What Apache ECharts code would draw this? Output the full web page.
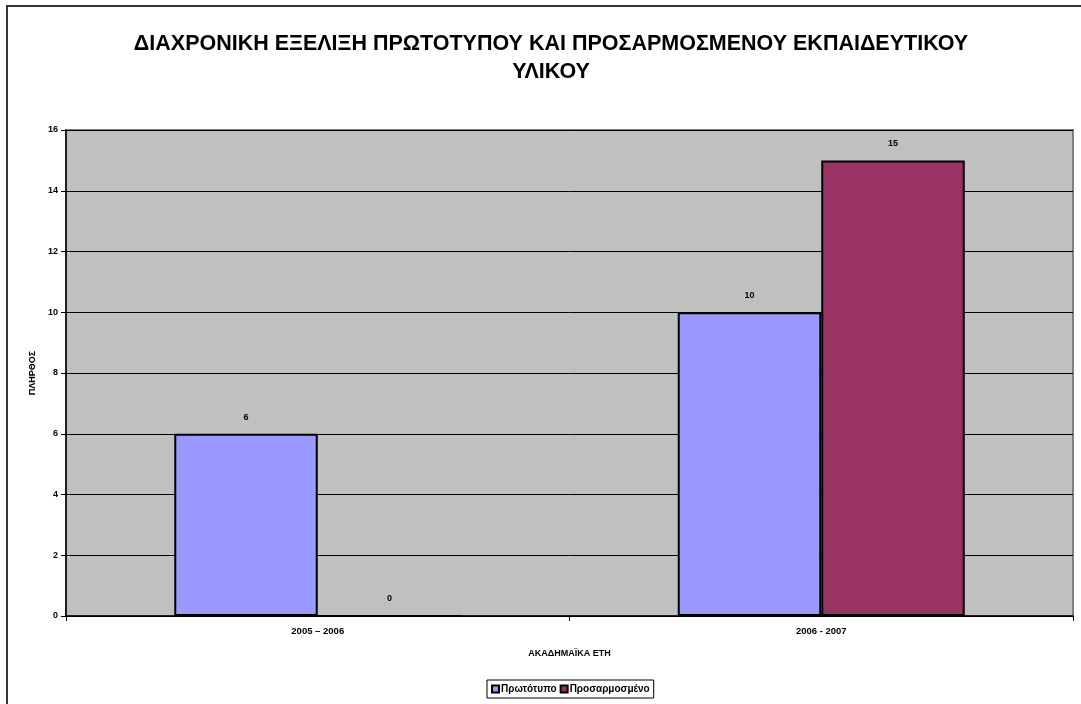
<!DOCTYPE html>
<html><head><meta charset="utf-8">
<script src="https://cdn.jsdelivr.net/npm/echarts@6/dist/echarts.min.js"></script>
<style>html,body{margin:0;padding:0;background:#fff}#c{width:1081px;height:704px}</style>
</head><body><div id="c"></div>
<script>
const categories = ['2005 – 2006', '2006 - 2007'];
const seriesNames = ['Πρωτότυπο', 'Προσαρμοσμένο'];
const original = [6, 10];
const adapted = [0, 15];
const titleText = 'ΔΙΑΧΡΟΝΙΚΗ ΕΞΕΛΙΞΗ ΠΡΩΤΟΤΥΠΟΥ ΚΑΙ ΠΡΟΣΑΡΜΟΣΜΕΝΟΥ ΕΚΠΑΙΔΕΥΤΙΚΟΥ\nΥΛΙΚΟΥ';
const xName = 'ΑΚΑΔΗΜΑΪΚΑ ΕΤΗ';
const yName = 'ΠΛΗΡΘΟΣ';

const F = '"Liberation Sans", Arial, sans-serif';
const chart = echarts.init(document.getElementById('c'));
const labelStyle = {show: true, position: 'top', distance: 12, fontFamily: F, fontWeight: 'bold', fontSize: 9, color: '#000'};
chart.setOption({
  animation: false,
  graphic: [{type: 'rect', shape: {x: 7, y: 6, width: 1090, height: 720}, style: {fill: 'none', stroke: '#333', lineWidth: 2}, silent: true}],
  title: {text: titleText, left: 546, textAlign: 'center', top: 25, textStyle: {fontFamily: F, fontWeight: 'bold', fontSize: 21.5, color: '#000', lineHeight: 28}},
  legend: {bottom: 6, left: 487, itemWidth: 7, itemHeight: 7, itemGap: 3, padding: [4, 4],
    borderColor: '#000', borderWidth: 1,
    textStyle: {fontFamily: F, fontWeight: 'bold', fontSize: 10, color: '#000', padding: [0, 0, 0, -3]},
    icon: 'rect', data: seriesNames},
  grid: {left: 66, right: 8, top: 130, bottom: 88, show: true, backgroundColor: '#c0c0c0', borderColor: '#808080', borderWidth: 2},
  xAxis: {type: 'category', data: categories, name: xName, nameLocation: 'middle', nameGap: 33,
    nameTextStyle: {fontFamily: F, fontWeight: 'bold', fontSize: 9, color: '#000'},
    axisLine: {lineStyle: {color: '#000', width: 1.5}}, axisTick: {show: true, length: 5, lineStyle: {color: '#000'}},
    axisLabel: {fontFamily: F, fontWeight: 'bold', fontSize: 9.5, color: '#000', margin: 10}},
  yAxis: {type: 'value', min: 0, max: 16, interval: 2, name: yName, nameLocation: 'middle', nameGap: 27,
    nameTextStyle: {fontFamily: F, fontWeight: 'bold', fontSize: 9, color: '#000'},
    axisLine: {show: true, lineStyle: {color: '#000', width: 1.5}}, axisTick: {show: true, length: 5, lineStyle: {color: '#000'}},
    axisLabel: {fontFamily: F, fontWeight: 'bold', fontSize: 9, color: '#000', margin: 8},
    splitLine: {lineStyle: {color: '#000', width: 1}}},
  series: [
    {name: seriesNames[0], type: 'bar', data: original, barGap: '0%', barCategoryGap: '43%',
      itemStyle: {color: '#9999ff', borderColor: '#000', borderWidth: 2}, label: labelStyle},
    {name: seriesNames[1], type: 'bar', data: adapted,
      itemStyle: {color: '#993366', borderColor: '#000', borderWidth: 2}, label: labelStyle}
  ]
});
</script></body></html>
